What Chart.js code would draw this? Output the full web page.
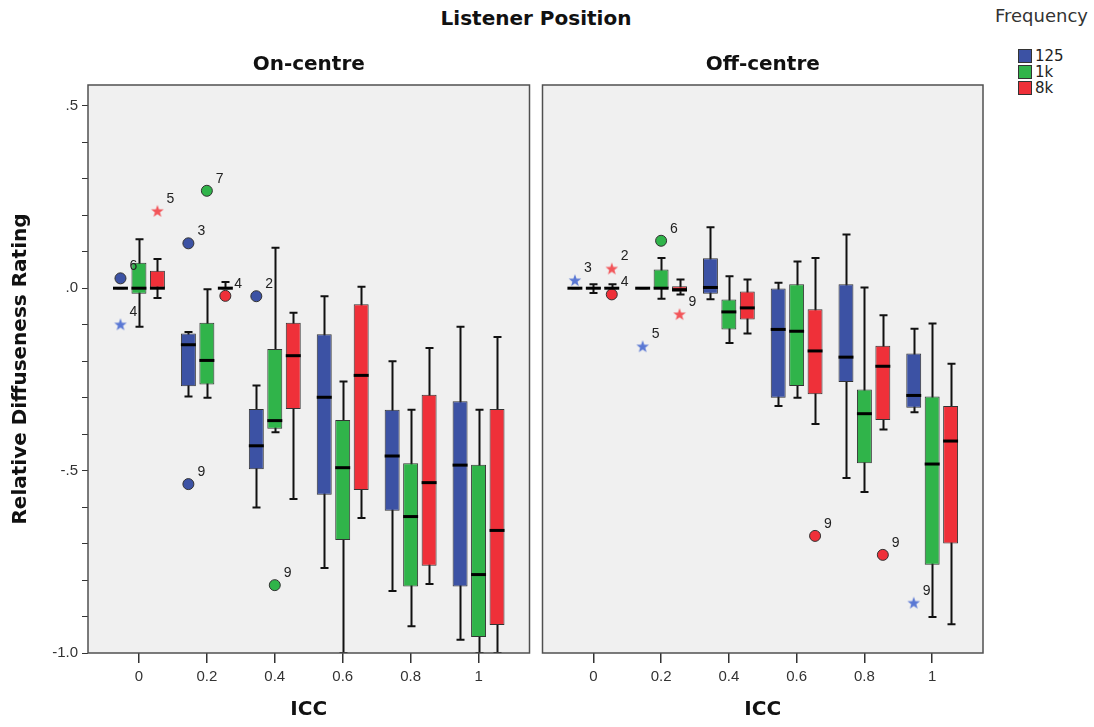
<!DOCTYPE html>
<html>
<head>
<meta charset="utf-8">
<script src="https://cdn.jsdelivr.net/npm/chart.js@4.4.1/dist/chart.umd.min.js"></script>
<style>
  body { margin: 0; background: #fff; width: 1094px; height: 727px; position: relative; overflow: hidden; font-family: "DejaVu Sans", sans-serif; }
  canvas { position: absolute; top: 0; }
  #leftPanel { left: 0; }
  #rightPanel { left: 536px; }
  #mainTitle { position: absolute; left: 386px; width: 300px; top: 6px; text-align: center; font-weight: bold; font-size: 20px; line-height: 24px; color: #111; }
  #legend { position: absolute; left: 995px; top: 5px; color: #333; }
  #legend .head { font-size: 18px; line-height: 22px; margin-bottom: 22px; }
  #legend .row { position: relative; height: 16px; margin-left: 23px; font-size: 15px; line-height: 15px; color: #222; }
  #legend .sw { display: inline-block; width: 14px; height: 14px; border: 1px solid #333; vertical-align: top; margin-right: 3px; box-sizing: border-box; }
</style>
</head>
<body>
<div id="mainTitle">Listener Position</div>
<div id="legend"></div>
<canvas id="leftPanel" width="536" height="727"></canvas>
<canvas id="rightPanel" width="558" height="727"></canvas>
<script>
// categories
const iccLabels = ['0', '0.2', '0.4', '0.6', '0.8', '1'];
const freqLabels = ['125', '1k', '8k'];
const freqColors = ['#3c52a4', '#30b44a', '#ef3039'];
const starColors = ['#5a78d4', '#30b44a', '#f25559'];

// box summaries per ICC: [whisker low, q1, median, q3, whisker high]
const on125 = [
  [0, 0, 0, 0, 0],
  [-0.297, -0.269, -0.155, -0.124, -0.120],
  [-0.601, -0.496, -0.432, -0.331, -0.267],
  [-0.767, -0.566, -0.299, -0.126, -0.022],
  [-0.830, -0.610, -0.460, -0.333, -0.200],
  [-0.964, -0.818, -0.485, -0.310, -0.106]
];
const on1k = [
  [-0.106, -0.015, 0, 0.070, 0.134],
  [-0.300, -0.264, -0.198, -0.095, -0.003],
  [-0.395, -0.385, -0.363, -0.167, 0.111],
  [-1.0, -0.690, -0.492, -0.361, -0.256],
  [-0.927, -0.818, -0.626, -0.480, -0.333],
  [-1.0, -0.956, -0.785, -0.484, -0.333]
];
const on8k = [
  [-0.027, 0, 0, 0.048, 0.080],
  [0, 0, 0, 0.004, 0.017],
  [-0.578, -0.331, -0.185, -0.095, -0.067],
  [-0.630, -0.553, -0.239, -0.044, 0.004],
  [-0.811, -0.761, -0.533, -0.292, -0.164],
  [-1.0, -0.923, -0.664, -0.331, -0.134]
];
const off125 = [
  [0, 0, 0, 0, 0],
  [0, 0, 0, 0, 0],
  [-0.030, -0.015, 0.002, 0.082, 0.167],
  [-0.323, -0.300, -0.113, -0.001, 0.015],
  [-0.520, -0.257, -0.189, 0.011, 0.147],
  [-0.340, -0.328, -0.294, -0.179, -0.111]
];
const off1k = [
  [-0.013, -0.003, 0, 0.003, 0.011],
  [-0.029, 0, 0, 0.051, 0.083],
  [-0.150, -0.113, -0.065, -0.031, 0.033],
  [-0.300, -0.268, -0.118, 0.011, 0.073],
  [-0.559, -0.480, -0.344, -0.278, 0.002],
  [-0.901, -0.758, -0.482, -0.297, -0.097]
];
const off8k = [
  [0, 0, 0, 0.003, 0.011],
  [-0.017, -0.010, -0.004, 0.005, 0.024],
  [-0.124, -0.086, -0.054, -0.009, 0.024],
  [-0.372, -0.291, -0.172, -0.058, 0.083],
  [-0.387, -0.361, -0.214, -0.158, -0.074],
  [-0.921, -0.700, -0.419, -0.323, -0.207]
];

// outliers: [frequency index, ICC index, value, case label, extreme (star)]
const onOutliers = [
  [0, 0, 0.027, '6', false],
  [0, 0, -0.099, '4', true],
  [2, 0, 0.212, '5', true],
  [0, 1, 0.123, '3', false],
  [0, 1, -0.537, '9', false],
  [1, 1, 0.267, '7', false],
  [2, 1, -0.021, '4', false],
  [0, 2, -0.022, '2', false],
  [1, 2, -0.814, '9', false]
];
const offOutliers = [
  [0, 0, 0.022, '3', true],
  [2, 0, 0.054, '2', true],
  [2, 0, -0.017, '4', false],
  [0, 1, -0.159, '5', true],
  [1, 1, 0.130, '6', false],
  [2, 1, -0.071, '9', true],
  [2, 3, -0.679, '9', false],
  [2, 4, -0.731, '9', false],
  [0, 5, -0.862, '9', true]
];

const CAT = 0.816;   // share of a category used by the three boxes
const BAR = 0.81;
const tickFont = { family: 'Liberation Sans', size: 15 };
const titleFont = { family: 'DejaVu Sans', size: 20, weight: 'bold' };

// legend
const legend = document.getElementById('legend');
legend.innerHTML = '<div class="head">Frequency</div>' + freqLabels.map((l, i) =>
  '<div class="row"><span class="sw" style="background:' + freqColors[i] + '"></span>' + l + '</div>').join('');

function starImage(color) {
  const c = document.createElement('canvas');
  c.width = 14; c.height = 14;
  const g = c.getContext('2d');
  g.beginPath();
  for (let k = 0; k < 10; k++) {
    const r = k % 2 ? 2.7 : 6.6;
    const a = -Math.PI / 2 + k * Math.PI / 5;
    g.lineTo(7 + r * Math.cos(a), 7.6 + r * Math.sin(a));
  }
  g.closePath();
  g.fillStyle = color;
  g.fill();
  return c;
}
const stars = starColors.map(starImage);

function yLabel(v) {
  if (Math.abs(v * 2 - Math.round(v * 2)) > 1e-6) return '';
  const a = Math.abs(v);
  const s = a < 1 ? '.' + Math.round(a * 10) : a.toFixed(1);
  return (v < -1e-9 ? '-' : '') + s;
}

const boxPlot = {
  id: 'boxPlot',
  beforeDraw(chart) {
    const a = chart.chartArea, ctx = chart.ctx;
    ctx.save();
    ctx.fillStyle = '#f0f0f0';
    ctx.fillRect(a.left, a.top, a.width, a.height);
    ctx.restore();
  },
  beforeDatasetsDraw(chart) {
    const a = chart.chartArea, ctx = chart.ctx, ys = chart.scales.y;
    ctx.save();
    ctx.beginPath();
    ctx.rect(a.left, a.top, a.width, a.height);
    ctx.clip();
    ctx.strokeStyle = '#111';
    ctx.lineWidth = 2;
    chart.data.datasets.forEach((ds, di) => {
      if (!ds.stats) return;
      const meta = chart.getDatasetMeta(di);
      ds.stats.forEach((s, i) => {
        const bar = meta.data[i];
        const x = Math.round(bar.x) + 0.5;
        const cap = 4;
        const lo = ys.getPixelForValue(s[0]), hi = ys.getPixelForValue(s[4]);
        ctx.beginPath();
        ctx.moveTo(x, lo); ctx.lineTo(x, hi);
        ctx.moveTo(x - cap, lo); ctx.lineTo(x + cap, lo);
        ctx.moveTo(x - cap, hi); ctx.lineTo(x + cap, hi);
        ctx.stroke();
      });
    });
    ctx.restore();
  },
  afterDatasetsDraw(chart) {
    const a = chart.chartArea, ctx = chart.ctx, ys = chart.scales.y;
    ctx.save();
    ctx.strokeStyle = '#000';
    ctx.lineWidth = 3;
    chart.data.datasets.forEach((ds, di) => {
      const meta = chart.getDatasetMeta(di);
      if (ds.stats) {
        ds.stats.forEach((s, i) => {
          const bar = meta.data[i];
          const y = ys.getPixelForValue(s[2]);
          ctx.beginPath();
          ctx.moveTo(bar.x - bar.width / 2, y);
          ctx.lineTo(bar.x + bar.width / 2, y);
          ctx.stroke();
        });
      } else {
        ctx.fillStyle = '#222';
        ctx.font = '14px "Liberation Sans"';
        ctx.textAlign = 'left';
        ctx.textBaseline = 'middle';
        ds.data.forEach((p, i) => {
          const pt = meta.data[i];
          ctx.fillText(p.label, pt.x + 9, pt.y - 12);
        });
      }
    });
    ctx.lineWidth = 1.5;
    ctx.strokeStyle = '#505050';
    ctx.strokeRect(a.left, a.top, a.width, a.height);
    ctx.restore();
  }
};

function makePanel(id, title, boxes, outliers, showY, padding) {
  const datasets = [];
  boxes.forEach((stats, f) => {
    datasets.push({
      type: 'bar',
      label: freqLabels[f],
      order: 2,
      stats: stats,
      data: stats.map((s, i) => ({ x: i, y: [s[1], s[3]] })),
      backgroundColor: freqColors[f],
      borderColor: '#333',
      borderWidth: 1,
      borderSkipped: false,
      categoryPercentage: CAT,
      barPercentage: BAR
    });
  });
  boxes.forEach((_, f) => {
    const shift = (f - 1) * CAT / 3;
    datasets.push({
      type: 'scatter',
      label: freqLabels[f] + ' outliers',
      order: 1,
      data: outliers.filter(o => o[0] === f).map(o => ({ x: o[1] + shift, y: o[2], label: o[3], star: o[4] })),
      pointStyle: ctx => (ctx.raw && ctx.raw.star) ? stars[f] : 'circle',
      pointRadius: 5.5,
      backgroundColor: freqColors[f],
      borderColor: '#333',
      borderWidth: 1
    });
  });

  return new Chart(document.getElementById(id), {
    type: 'bar',
    data: { datasets: datasets },
    options: {
      responsive: false,
      animation: false,
      events: [],
      layout: { padding: padding },
      plugins: {
        legend: { display: false },
        tooltip: { enabled: false },
        title: {
          display: true, text: title, fullSize: false,
          font: titleFont, color: '#111', padding: { top: 8, bottom: 8 }
        }
      },
      scales: {
        x: {
          type: 'linear',
          min: -0.75, max: 5.75,
          offset: false,
          afterBuildTicks: s => { s.ticks = iccLabels.map((_, i) => ({ value: i })); },
          afterFit: s => { s.height = 74; },
          ticks: { callback: v => iccLabels[v], autoSkip: false, maxRotation: 0, font: tickFont, color: '#333', padding: 5 },
          grid: { drawOnChartArea: false, drawTicks: true, tickLength: 10, color: '#333', lineWidth: 1.5, offset: false },
          border: { display: false },
          title: { display: true, text: 'ICC', font: titleFont, color: '#111', padding: { top: 4, bottom: 5 } }
        },
        y: {
          display: showY,
          min: -1.0, max: 0.557,
          afterFit: s => { s.width = showY ? 88 : 0; },
          ticks: { stepSize: 0.1, includeBounds: false, autoSkip: false, callback: yLabel, font: tickFont, color: '#333', padding: 4 },
          grid: { drawOnChartArea: false, drawTicks: true, tickLength: 6, color: '#333', lineWidth: 1 },
          border: { display: false },
          title: { display: true, text: 'Relative Diffuseness Rating', font: titleFont, color: '#111', padding: { top: 9, bottom: 0 } }
        }
      }
    },
    plugins: [boxPlot]
  });
}

makePanel('leftPanel', 'On-centre', [on125, on1k, on8k], onOutliers, true, { top: 45, left: 0, right: 6, bottom: 0 });
makePanel('rightPanel', 'Off-centre', [off125, off1k, off8k], offOutliers, false, { top: 45, left: 5, right: 111, bottom: 0 });
</script>
</body>
</html>
